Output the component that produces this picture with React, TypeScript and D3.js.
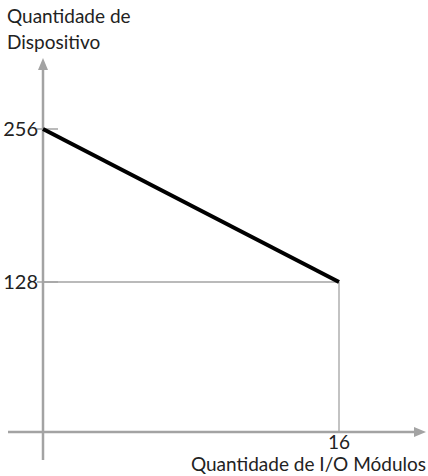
import * as d3 from 'd3'
import { useEffect, useRef } from 'react'

// dados
const xPoints = [0, 16]
const yPoints = [256, 128]
const yTicks = [256, 128]
const xTicks = [16]
const yTitle = ['Quantidade de', 'Dispositivo']
const xTitle = 'Quantidade de I/O Módulos'

const width = 428
const height = 476
const axisColor = '#a3a3a3'
const textColor = '#222'
const font = 'Lato, "Noto Sans", sans-serif'

const App = () => {
	const svgRef = useRef<SVGSVGElement>(null)

	useEffect(() => {
		const svg = d3.select(svgRef.current)
		svg.selectAll('*').remove()

		const x = d3.scaleLinear().domain([0, 16]).range([43, 339])
		const y = d3.scaleLinear().domain([0, 256]).range([435, 129])
		const axisY = 432

		// linhas de referência
		yTicks.forEach((t, i) => {
			if (i === 0) return
			svg.append('line')
				.attr('x1', x(0)).attr('x2', x(16))
				.attr('y1', y(t)).attr('y2', y(t))
				.attr('stroke', axisColor).attr('stroke-width', 1.3)
		})
		xTicks.forEach((t) => {
			svg.append('line')
				.attr('x1', x(t)).attr('x2', x(t))
				.attr('y1', y(128)).attr('y2', axisY)
				.attr('stroke', axisColor).attr('stroke-width', 1.3)
		})

		// eixos
		svg.append('line')
			.attr('x1', 8).attr('x2', 416)
			.attr('y1', axisY).attr('y2', axisY)
			.attr('stroke', axisColor).attr('stroke-width', 2.5)
		svg.append('path')
			.attr('d', `M426,${axisY} L414,${axisY - 5} L414,${axisY + 5} Z`)
			.attr('fill', axisColor)
		svg.append('line')
			.attr('x1', x(0)).attr('x2', x(0))
			.attr('y1', 68).attr('y2', 460)
			.attr('stroke', axisColor).attr('stroke-width', 2.5)
		svg.append('path')
			.attr('d', `M${x(0)},58 L${x(0) - 5},70 L${x(0) + 5},70 Z`)
			.attr('fill', axisColor)

		// marcas do eixo y
		yTicks.forEach((t) => {
			svg.append('line')
				.attr('x1', x(0) - 6).attr('x2', x(0) + 15)
				.attr('y1', y(t)).attr('y2', y(t))
				.attr('stroke', axisColor).attr('stroke-width', 1.5)
			svg.append('text')
				.attr('x', x(0) - 5).attr('y', y(t) + 7)
				.attr('text-anchor', 'end')
				.attr('font-family', font).attr('font-size', 20)
				.attr('fill', textColor)
				.text(t)
		})
		xTicks.forEach((t) => {
			svg.append('text')
				.attr('x', x(t)).attr('y', 449)
				.attr('text-anchor', 'middle')
				.attr('font-family', font).attr('font-size', 19)
				.attr('fill', textColor)
				.text(t)
		})

		// série
		const line = d3.line<number>()
			.x((_, i) => x(xPoints[i]))
			.y((d) => y(d))
		svg.append('path')
			.attr('d', line(yPoints))
			.attr('fill', 'none')
			.attr('stroke', '#000')
			.attr('stroke-width', 4)

		// títulos
		yTitle.forEach((s, i) => {
			svg.append('text')
				.attr('x', 7).attr('y', 23 + i * 26)
				.attr('font-family', font).attr('font-size', 19)
				.attr('fill', textColor)
				.text(s)
		})
		svg.append('text')
			.attr('x', 426).attr('y', 471)
			.attr('text-anchor', 'end')
			.attr('font-family', font).attr('font-size', 19)
			.attr('fill', textColor)
			.text(xTitle)
	}, [])

	return (
		<svg
			ref={svgRef}
			width={width}
			height={height}
			style={{ position: 'absolute', top: 0, left: 0, background: '#fff' }}
		></svg>
	)
}

export default App
